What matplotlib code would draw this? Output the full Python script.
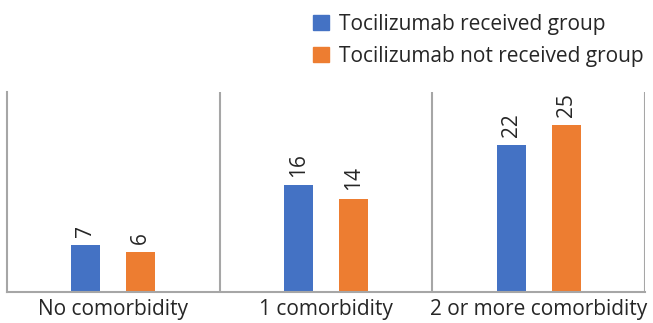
import numpy as np
import matplotlib.pyplot as plt
from matplotlib.patches import Patch

categories = ['No comorbidity', '1 comorbidity', '2 or more comorbidity']
received = [7, 16, 22]
not_received = [6, 14, 25]
series_names = ['Tocilizumab received group', 'Tocilizumab not received group']

blue = '#4472C4'
orange = '#ED7D31'
grey = '#A6A6A6'
txt = '#262626'

plt.rcParams['font.family'] = ['Open Sans', 'DejaVu Sans']

fig = plt.figure(figsize=(6.53, 3.23), dpi=100)
ax = fig.add_axes([7 / 653, 31 / 323, 638 / 653, 200 / 323])

x = np.arange(len(categories))
w = 0.136
off = 0.129
b1 = ax.bar(x - off, received, w, color=blue)
b2 = ax.bar(x + off, not_received, w, color=orange)

# value labels, turned on their side above each bar
for bars, vals in ((b1, received), (b2, not_received)):
    for b, v in zip(bars, vals):
        ax.annotate(str(v), (b.get_x() + b.get_width() / 2, v),
                    xytext=(0, 6), textcoords='offset points', rotation=90,
                    ha='center', va='bottom', fontsize=15, color=txt)

ax.set_xlim(-0.5, 2.5)
ax.set_ylim(0, 30)
for xv in (0.5, 1.5, 2.5):
    ax.axvline(xv, color=grey, lw=1.5)
for s in ('top', 'right'):
    ax.spines[s].set_visible(False)
for s in ('left', 'bottom'):
    ax.spines[s].set_color(grey)
    ax.spines[s].set_linewidth(1.5)
ax.set_yticks([])
ax.set_xticks(x)
ax.set_xticklabels(categories, fontsize=15, color=txt)
ax.tick_params(axis='x', length=0, pad=5)

handles = [Patch(color=blue), Patch(color=orange)]
fig.legend(handles, series_names, loc='upper left', bbox_to_anchor=(294 / 653, 1.015),
           frameon=False, fontsize=15, handlelength=0.77, handleheight=0.77,
           handletextpad=0.48, labelspacing=0.52, labelcolor=txt)

fig.savefig('out.png', dpi=100)
